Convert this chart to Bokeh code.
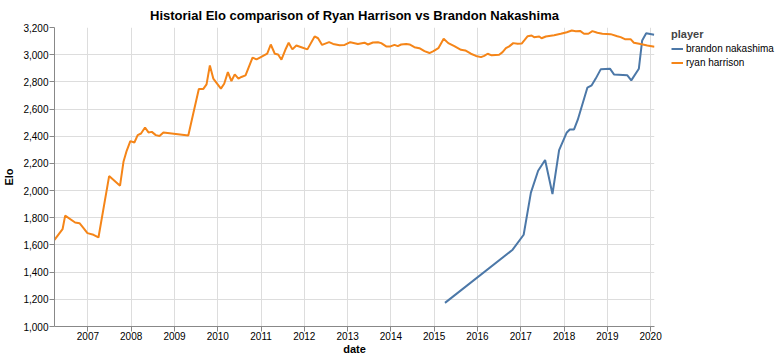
import pandas as pd
from bokeh.plotting import figure
from bokeh.models import (Legend, LegendItem, FixedTicker, NumeralTickFormatter,
                          DatetimeTickFormatter, Range1d)
from bokeh.embed import file_html
from bokeh.resources import INLINE

ryan_dates = [
    "2006-03-25", "2006-06-01", "2006-06-23", "2006-09-15", "2006-10-22", "2006-11-25", "2006-12-28",
    "2007-02-17", "2007-03-31", "2007-06-29", "2007-09-29", "2007-10-28", "2007-11-24", "2007-12-25",
    "2008-01-28", "2008-02-25", "2008-03-24", "2008-04-27", "2008-05-26", "2008-06-23", "2008-07-27", "2008-08-27", "2008-09-29",
    "2009-04-27", "2009-06-08", "2009-07-25", "2009-09-01", "2009-09-28", "2009-10-26", "2009-11-24",
    "2010-01-27", "2010-02-24", "2010-03-27", "2010-04-26", "2010-05-24", "2010-06-24", "2010-07-19", "2010-08-23", "2010-10-21", "2010-11-24", "2010-12-30",
    "2011-02-22", "2011-03-24", "2011-04-27", "2011-05-25", "2011-06-22", "2011-07-25", "2011-08-22", "2011-09-22", "2011-10-26", "2011-12-07",
    "2012-01-27", "2012-03-28", "2012-04-26", "2012-05-30", "2012-07-28", "2012-08-31", "2012-10-25", "2012-12-06",
    "2013-01-23", "2013-03-28", "2013-05-23", "2013-06-21", "2013-08-02", "2013-09-13", "2013-10-11", "2013-11-22", "2013-12-28",
    "2014-01-31", "2014-02-28", "2014-03-28", "2014-05-10", "2014-06-07", "2014-07-18", "2014-08-29", "2014-10-11", "2014-11-22", "2014-12-26",
    "2015-02-05", "2015-03-22", "2015-04-30", "2015-06-20", "2015-08-15", "2015-09-20", "2015-11-07", "2015-12-19",
    "2016-01-31", "2016-02-27", "2016-03-27", "2016-04-30", "2016-07-02", "2016-07-31", "2016-08-28", "2016-09-25", "2016-10-29", "2016-12-05",
    "2017-01-08", "2017-01-30", "2017-02-28", "2017-04-02", "2017-04-23", "2017-06-05", "2017-06-25", "2017-07-31", "2017-10-09", "2017-12-04",
    "2018-01-24", "2018-03-07", "2018-04-10", "2018-05-16", "2018-06-18", "2018-07-25", "2018-08-28", "2018-10-09", "2018-11-20",
    "2019-01-29", "2019-03-26", "2019-04-23", "2019-05-29", "2019-07-16", "2019-08-13", "2019-10-08", "2019-12-04", "2020-02-03",
]
ryan_elo = [
    1638, 1716, 1816, 1765, 1760, 1724, 1687,
    1675, 1655, 2107, 2036, 2212, 2293, 2364,
    2354, 2408, 2420, 2464, 2428, 2432, 2408, 2401, 2428,
    2406, 2567, 2748, 2748, 2782, 2921, 2824,
    2750, 2786, 2872, 2806, 2855, 2824, 2836, 2848, 2978, 2965, 2982,
    3007, 3075, 3007, 3002, 2963, 3036, 3088, 3039, 3068, 3055,
    3039, 3134, 3121, 3072, 3092, 3079, 3070, 3072,
    3092, 3079, 3088, 3075, 3090, 3092, 3085, 3061, 3061,
    3072, 3063, 3075, 3079, 3075, 3055, 3048, 3026, 3012, 3026,
    3048, 3117, 3085, 3063, 3036, 3031, 3007, 2991,
    2982, 2991, 3007, 2995, 3000, 3019, 3048, 3061, 3085, 3080,
    3082, 3105, 3136, 3141, 3129, 3134, 3121, 3134, 3143, 3154,
    3165, 3178, 3173, 3175, 3154, 3154, 3173, 3161, 3154,
    3151, 3136, 3129, 3114, 3114, 3088, 3078, 3068, 3058,
]
brandon_dates = [
    "2015-04-02", "2016-10-24", "2017-01-25", "2017-03-27", "2017-05-27", "2017-07-25",
    "2017-09-25", "2017-11-20", "2018-01-24", "2018-02-18", "2018-03-26", "2018-04-26",
    "2018-07-17", "2018-08-22", "2018-09-25", "2018-11-06", "2019-01-23", "2019-02-26",
    "2019-06-19", "2019-07-22", "2019-09-24", "2019-10-22", "2019-11-25", "2020-01-31",
]
brandon_elo = [
    1174, 1565, 1675, 1985, 2146, 2225,
    1975, 2298, 2428, 2450, 2450, 2520,
    2758, 2775, 2824, 2892, 2897, 2855,
    2848, 2811, 2897, 3105, 3158, 3146,
]
players = ["brandon nakashima", "ryan harrison"]
colors = ["#4c78a8", "#f58518"]
tick_years = [2007, 2008, 2009, 2010, 2011, 2012, 2013, 2014, 2015, 2016, 2017, 2018, 2019, 2020]
y_ticks = [1000, 1200, 1400, 1600, 1800, 2000, 2200, 2400, 2600, 2800, 3000, 3200]

FONT = "Liberation Sans"

rd = pd.to_datetime(ryan_dates)
bd = pd.to_datetime(brandon_dates)
x_start = min(rd.min(), bd.min()).to_pydatetime()
x_end = max(rd.max(), bd.max()).to_pydatetime()

p = figure(frame_width=600, frame_height=299, x_axis_type="datetime",
           x_range=Range1d(x_start, x_end), y_range=Range1d(y_ticks[0], y_ticks[-1]),
           output_backend="svg", toolbar_location=None,
           min_border_left=45, min_border_right=126, min_border_top=19, min_border_bottom=29,
           title="Historial Elo comparison of Ryan Harrison vs Brandon Nakashima")
p.outline_line_color = None
p.title.align = "center"
p.title.text_font = FONT
p.title.text_font_size = "13px"
p.title.text_font_style = "bold"
p.title.text_color = "#000"
p.title.standoff = 10

rb = p.line(bd, brandon_elo, line_color=colors[0], line_width=2)
rr = p.line(rd, ryan_elo, line_color=colors[1], line_width=2)

tick_ms = [pd.Timestamp(f"{y}-01-01").value / 1e6 for y in tick_years]
p.xaxis.ticker = FixedTicker(ticks=tick_ms)
p.xaxis.formatter = DatetimeTickFormatter(years="%Y", months="%Y", days="%Y", hours="%Y",
                                          minutes="%Y", seconds="%Y", milliseconds="%Y")
p.yaxis.ticker = FixedTicker(ticks=y_ticks)
p.yaxis.formatter = NumeralTickFormatter(format="0,0")
p.xaxis.axis_label = "date"
p.yaxis.axis_label = "Elo"

for ax in (p.xaxis[0], p.yaxis[0]):
    ax.axis_line_color = "#888"
    ax.major_tick_line_color = "#888"
    ax.minor_tick_line_color = None
    ax.major_tick_out = 5
    ax.major_tick_in = 0
    ax.major_label_text_font = FONT
    ax.major_label_text_font_size = "10px"
    ax.major_label_text_color = "#000"
    ax.axis_label_text_font = FONT
    ax.axis_label_text_font_size = "11px"
    ax.axis_label_text_font_style = "bold"
    ax.axis_label_text_color = "#000"
p.xaxis.axis_label_standoff = 0
p.xaxis.major_label_standoff = 0
p.yaxis.axis_label_standoff = 5
p.yaxis.major_label_standoff = 1

p.xgrid.grid_line_color = "#ddd"
p.ygrid.grid_line_color = "#ddd"

legend = Legend(items=[LegendItem(label=players[0], renderers=[rb]),
                       LegendItem(label=players[1], renderers=[rr])],
                title="player", location=(17, 258), orientation="vertical",
                margin=0, padding=0, border_line_color=None, background_fill_alpha=0,
                title_text_font=FONT, title_text_font_size="11px", title_text_font_style="bold",
                title_standoff=3, label_text_font=FONT, label_text_font_size="10px",
                label_text_color="#000", glyph_width=12, glyph_height=11, label_height=11,
                label_standoff=3, spacing=3)
p.add_layout(legend, "right")

open("out.html", "w").write(file_html(p, INLINE))
